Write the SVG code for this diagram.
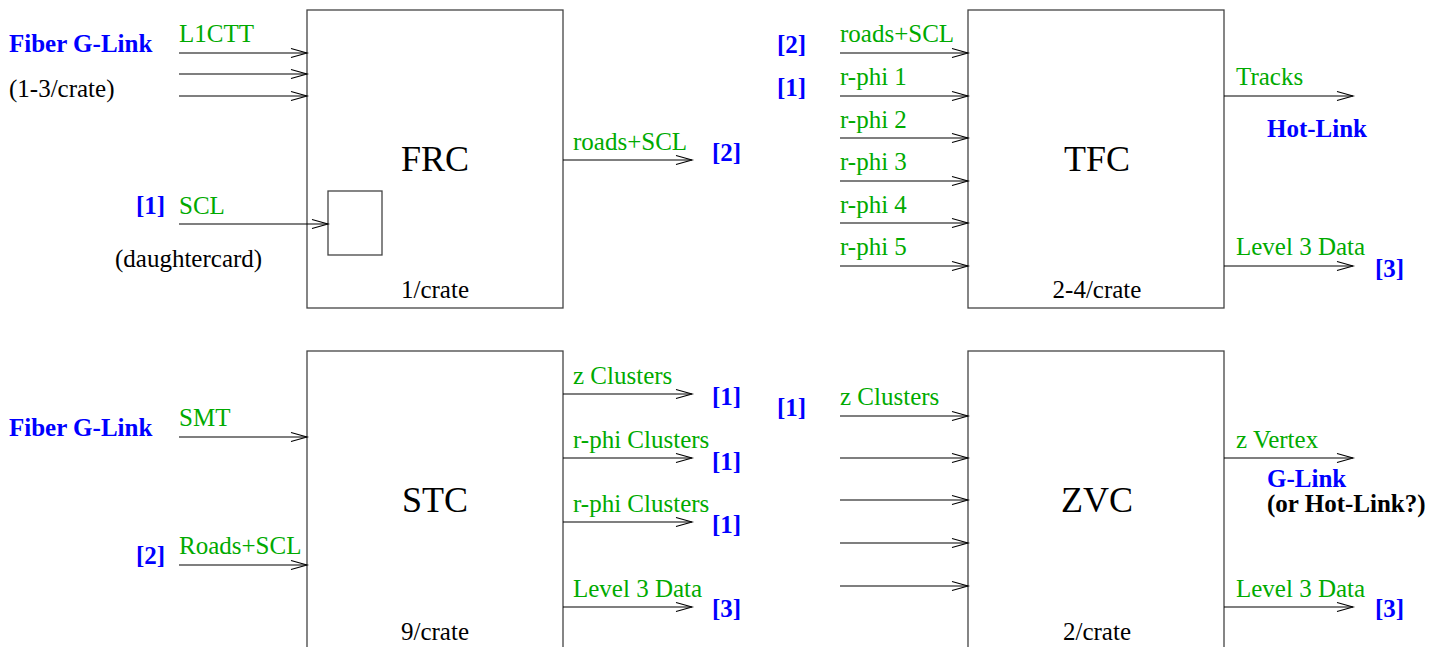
<svg xmlns="http://www.w3.org/2000/svg" width="1434" height="647" viewBox="0 0 1434 647">
<style>
text{font-family:"Liberation Serif","Times New Roman",serif;font-size:25px}
.g{fill:#00aa00}
.b{fill:#0000ff;font-weight:bold}
.k{fill:#000}
.kb{fill:#000;font-weight:bold}
.big{font-size:36px;text-anchor:middle}
.mid{text-anchor:middle}
.box{fill:#fff;stroke:#444;stroke-width:1.3}
.c{stroke:#000;stroke-width:1.1;fill:none;marker-end:url(#ah)}
</style>
<defs>
<marker id="ah" markerUnits="userSpaceOnUse" markerWidth="20" markerHeight="12" refX="0" refY="0" viewBox="-18 -6 20 12" orient="auto" overflow="visible">
<path d="M-16,-4.5 L0,0 L-16,4.5" fill="none" stroke="#000" stroke-width="1.1"/>
</marker>
</defs>
<rect width="1434" height="647" fill="#fff"/>

<g id="FRC">
<rect class="box" x="307" y="10" width="256" height="298"/>
<rect class="box" x="328" y="191" width="54" height="64"/>
<text class="k big" x="435" y="171">FRC</text>
<text class="k mid" x="435" y="298">1/crate</text>
</g>
<g id="TFC">
<rect class="box" x="968" y="10" width="256" height="298"/>
<text class="k big" x="1097" y="171">TFC</text>
<text class="k mid" x="1097" y="298">2-4/crate</text>
</g>
<g id="STC">
<rect class="box" x="307" y="351" width="256" height="310"/>
<text class="k big" x="435" y="512">STC</text>
<text class="k mid" x="435" y="640">9/crate</text>
</g>
<g id="ZVC">
<rect class="box" x="968" y="351" width="256" height="310"/>
<text class="k big" x="1097" y="512">ZVC</text>
<text class="k mid" x="1097" y="640">2/crate</text>
</g>

<g id="connectors">
<line class="c" x1="179" y1="53" x2="307" y2="53"/>
<line class="c" x1="179" y1="74" x2="307" y2="74"/>
<line class="c" x1="179" y1="96" x2="307" y2="96"/>
<line class="c" x1="179" y1="224" x2="328" y2="224"/>
<line class="c" x1="563" y1="160" x2="692" y2="160"/>

<line class="c" x1="840" y1="53" x2="968" y2="53"/>
<line class="c" x1="840" y1="96" x2="968" y2="96"/>
<line class="c" x1="840" y1="138" x2="968" y2="138"/>
<line class="c" x1="840" y1="181" x2="968" y2="181"/>
<line class="c" x1="840" y1="223" x2="968" y2="223"/>
<line class="c" x1="840" y1="266" x2="968" y2="266"/>
<line class="c" x1="1224" y1="96" x2="1353" y2="96"/>
<line class="c" x1="1224" y1="266" x2="1353" y2="266"/>

<line class="c" x1="179" y1="437" x2="307" y2="437"/>
<line class="c" x1="179" y1="565" x2="307" y2="565"/>
<line class="c" x1="563" y1="394" x2="692" y2="394"/>
<line class="c" x1="563" y1="458" x2="692" y2="458"/>
<line class="c" x1="563" y1="522" x2="692" y2="522"/>
<line class="c" x1="563" y1="607" x2="692" y2="607"/>

<line class="c" x1="840" y1="416" x2="968" y2="416"/>
<line class="c" x1="840" y1="458" x2="968" y2="458"/>
<line class="c" x1="840" y1="500" x2="968" y2="500"/>
<line class="c" x1="840" y1="543" x2="968" y2="543"/>
<line class="c" x1="840" y1="586" x2="968" y2="586"/>
<line class="c" x1="1224" y1="458" x2="1353" y2="458"/>
<line class="c" x1="1224" y1="607" x2="1353" y2="607"/>
</g>

<g id="labels">
<text class="b" x="9" y="52">Fiber G-Link</text>
<text class="k" x="9" y="97">(1-3/crate)</text>
<text class="g" x="179" y="42">L1CTT</text>
<text class="b" x="136" y="214">[1]</text>
<text class="g" x="179" y="214">SCL</text>
<text class="k" x="115" y="267">(daughtercard)</text>
<text class="g" x="573" y="150">roads+SCL</text>
<text class="b" x="712" y="161">[2]</text>

<text class="b" x="777" y="53">[2]</text>
<text class="b" x="777" y="96">[1]</text>
<text class="g" x="840" y="42">roads+SCL</text>
<text class="g" x="840" y="85">r-phi 1</text>
<text class="g" x="840" y="128">r-phi 2</text>
<text class="g" x="840" y="170">r-phi 3</text>
<text class="g" x="840" y="213">r-phi 4</text>
<text class="g" x="840" y="255">r-phi 5</text>
<text class="g" x="1236" y="85">Tracks</text>
<text class="b" x="1267" y="137">Hot-Link</text>
<text class="g" x="1236" y="255">Level 3 Data</text>
<text class="b" x="1375" y="277">[3]</text>

<text class="b" x="9" y="436">Fiber G-Link</text>
<text class="g" x="179" y="426">SMT</text>
<text class="b" x="136" y="564">[2]</text>
<text class="g" x="179" y="554">Roads+SCL</text>
<text class="g" x="573" y="384">z Clusters</text>
<text class="b" x="712" y="405">[1]</text>
<text class="g" x="573" y="448">r-phi Clusters</text>
<text class="b" x="712" y="470">[1]</text>
<text class="g" x="573" y="512">r-phi Clusters</text>
<text class="b" x="712" y="533">[1]</text>
<text class="g" x="573" y="597">Level 3 Data</text>
<text class="b" x="712" y="617">[3]</text>

<text class="b" x="777" y="416">[1]</text>
<text class="g" x="840" y="405">z Clusters</text>
<text class="g" x="1236" y="448">z Vertex</text>
<text class="b" x="1267" y="487">G-Link</text>
<text class="kb" x="1267" y="512">(or Hot-Link?)</text>
<text class="g" x="1236" y="597">Level 3 Data</text>
<text class="b" x="1375" y="617">[3]</text>
</g>
</svg>
